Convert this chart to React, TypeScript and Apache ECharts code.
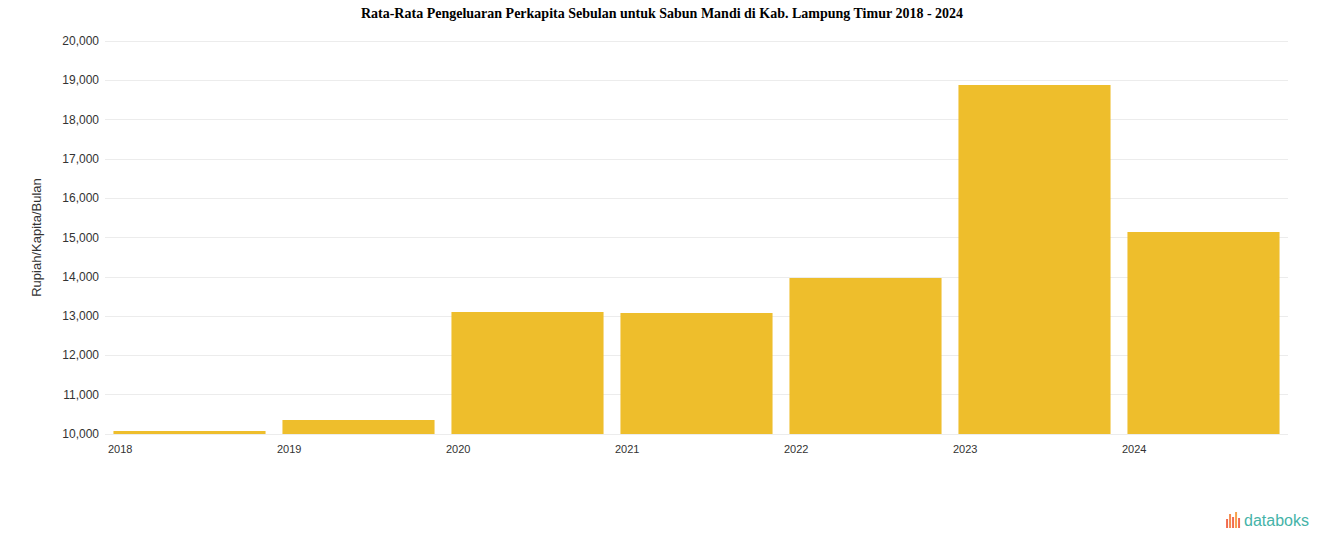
import React, { useEffect, useRef } from "react";
import * as echarts from "echarts";

const title = "Rata-Rata Pengeluaran Perkapita Sebulan untuk Sabun Mandi di Kab. Lampung Timur 2018 - 2024";
const years = ["2018", "2019", "2020", "2021", "2022", "2023", "2024"];
const values = [10076, 10356, 13104, 13079, 13969, 18880, 15140];
const yAxisName = "Rupiah/Kapita/Bulan";
const yMin = 10000;
const yMax = 20000;
const yStep = 1000;

export default function App() {
  const ref = useRef<HTMLDivElement>(null);
  useEffect(() => {
    if (!ref.current) return;
    const chart = echarts.init(ref.current, null, { renderer: "svg" });
    const iconBars = [
      { x: 0, h: 9, c: "#f26b4f" },
      { x: 3, h: 14, c: "#f58a4c" },
      { x: 6, h: 11, c: "#f26b4f" },
      { x: 9, h: 16, c: "#f7a14a" },
      { x: 12, h: 10, c: "#f26b4f" },
    ];
    chart.setOption({
      animation: false,
      title: {
        text: title,
        left: "center",
        top: 1,
        textStyle: { fontFamily: "Liberation Serif", fontWeight: "bold", fontSize: 14, color: "#000" },
      },
      grid: { left: 105, right: 36, top: 41, bottom: 113 },
      xAxis: [
        {
          type: "category",
          data: years,
          axisLine: { show: false },
          axisTick: { show: false },
          axisLabel: { show: false },
        },
        {
          type: "category",
          data: [...years, ""],
          boundaryGap: false,
          position: "bottom",
          axisLine: { show: false },
          axisTick: { show: false },
          axisLabel: {
            align: "left",
            margin: 9,
            interval: 0,
            fontFamily: "Liberation Sans",
            fontSize: 11,
            color: "#333",
            padding: [0, 0, 0, 3],
          },
        },
      ],
      yAxis: {
        type: "value",
        min: yMin,
        max: yMax,
        interval: yStep,
        name: yAxisName,
        nameLocation: "middle",
        nameGap: 62,
        nameTextStyle: { fontFamily: "Liberation Sans", fontSize: 13, color: "#333" },
        axisLine: { show: false },
        axisTick: { show: false },
        axisLabel: {
          margin: 6,
          fontFamily: "Liberation Sans",
          fontSize: 12,
          color: "#333",
          formatter: (v: number) => v.toLocaleString("en-US"),
        },
        splitLine: { show: true, lineStyle: { color: "#ececec", width: 1 } },
      },
      series: [
        {
          type: "bar",
          data: values,
          barCategoryGap: "10%",
          itemStyle: { color: "#EEBE2C" },
        },
      ],
      graphic: [
        {
          type: "group",
          right: 15,
          bottom: 19,
          children: [
            ...iconBars.map((b) => ({
              type: "rect",
              shape: { x: b.x, y: 16 - b.h, width: 2, height: b.h },
              style: { fill: b.c },
            })),
            {
              type: "text",
              x: 18,
              y: 0,
              style: {
                text: "databoks",
                fontFamily: "Liberation Sans",
                fontSize: 16,
                fill: "#45b3a8",
              },
            },
          ],
        },
      ],
    });
    return () => chart.dispose();
  }, []);
  return (
    <div
      ref={ref}
      style={{ position: "fixed", left: 0, top: 0, width: 1324, height: 547, background: "#fff" }}
    />
  );
}
